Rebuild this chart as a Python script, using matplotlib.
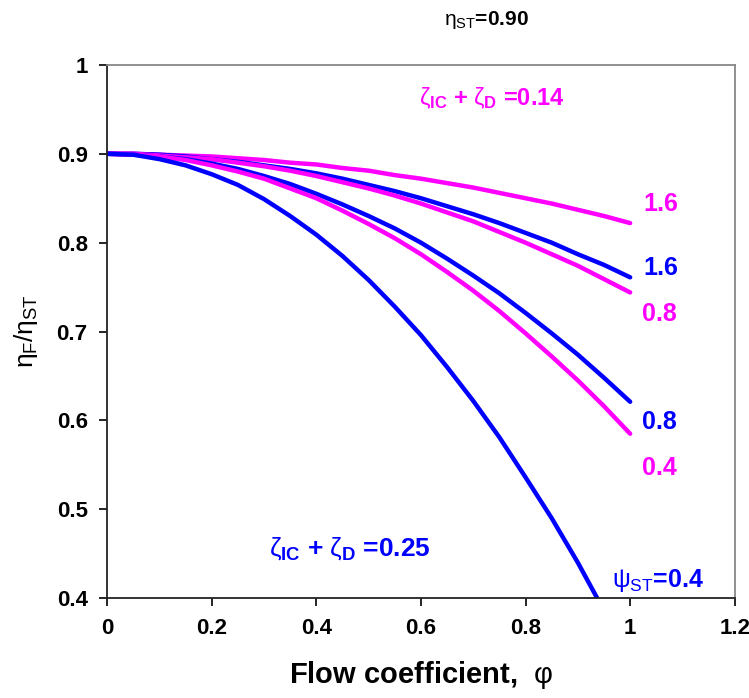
import matplotlib
matplotlib.use("Agg")
import matplotlib.pyplot as plt

plt.rcParams['font.family'] = ['Liberation Sans', 'DejaVu Sans']
plt.rcParams['mathtext.fontset'] = 'custom'
plt.rcParams['mathtext.rm'] = 'Liberation Sans'
plt.rcParams['mathtext.it'] = 'Liberation Sans'
plt.rcParams['mathtext.bf'] = 'Liberation Sans:bold'

# Flow coefficient grid
phi = [0.00, 0.05, 0.10, 0.15, 0.20, 0.25, 0.30, 0.35, 0.40, 0.45, 0.50,
       0.55, 0.60, 0.65, 0.70, 0.75, 0.80, 0.85, 0.90, 0.95, 1.00]
phi_low = [0.00, 0.05, 0.10, 0.15, 0.20, 0.25, 0.30, 0.35, 0.40, 0.45, 0.50,
           0.55, 0.60, 0.65, 0.70, 0.75, 0.80, 0.85, 0.90, 0.937]

# eta_F / eta_ST for zeta_IC + zeta_D = 0.14 (magenta)
m_psi16 = [0.900, 0.900, 0.899, 0.898, 0.897, 0.895, 0.893, 0.890, 0.888, 0.884, 0.881,
           0.876, 0.872, 0.867, 0.862, 0.856, 0.850, 0.844, 0.837, 0.830, 0.822]
m_psi08 = [0.900, 0.900, 0.898, 0.896, 0.894, 0.890, 0.886, 0.881, 0.875, 0.868, 0.861,
           0.853, 0.844, 0.834, 0.824, 0.812, 0.800, 0.787, 0.774, 0.759, 0.744]
m_psi04 = [0.900, 0.899, 0.897, 0.893, 0.887, 0.880, 0.872, 0.861, 0.850, 0.836, 0.821,
           0.805, 0.787, 0.767, 0.746, 0.723, 0.698, 0.672, 0.645, 0.616, 0.585]

# eta_F / eta_ST for zeta_IC + zeta_D = 0.25 (blue)
b_psi16 = [0.900, 0.900, 0.899, 0.897, 0.894, 0.891, 0.887, 0.883, 0.878, 0.872, 0.865,
           0.858, 0.850, 0.841, 0.832, 0.822, 0.811, 0.800, 0.787, 0.775, 0.761]
b_psi08 = [0.900, 0.899, 0.897, 0.894, 0.889, 0.883, 0.875, 0.866, 0.855, 0.843, 0.830,
           0.816, 0.800, 0.782, 0.763, 0.743, 0.721, 0.698, 0.674, 0.648, 0.621]
b_psi04 = [0.900, 0.899, 0.894, 0.887, 0.877, 0.865, 0.849, 0.830, 0.809, 0.785, 0.758,
           0.728, 0.696, 0.660, 0.622, 0.581, 0.536, 0.490, 0.440, 0.400]

x_ticks = [0, 0.2, 0.4, 0.6, 0.8, 1.0, 1.2]
x_tick_labels = ['0', '0.2', '0.4', '0.6', '0.8', '1', '1.2']
y_ticks = [0.4, 0.5, 0.6, 0.7, 0.8, 0.9, 1.0]
y_tick_labels = ['0.4', '0.5', '0.6', '0.7', '0.8', '0.9', '1']

MAG = '#FF00FF'
BLU = '#0000FF'

fig = plt.figure(figsize=(7.49, 6.98), dpi=100)
ax = fig.add_axes([0.143, 0.143, 0.838, 0.764])

lw = 3.2
ax.plot(phi, m_psi16, color=MAG, lw=lw, solid_capstyle='round', solid_joinstyle='round')
ax.plot(phi, b_psi16, color=BLU, lw=lw, solid_capstyle='round', solid_joinstyle='round')
ax.plot(phi, m_psi08, color=MAG, lw=lw, solid_capstyle='round', solid_joinstyle='round')
ax.plot(phi, b_psi08, color=BLU, lw=lw, solid_capstyle='round', solid_joinstyle='round')
ax.plot(phi, m_psi04, color=MAG, lw=lw, solid_capstyle='round', solid_joinstyle='round')
ax.plot(phi_low, b_psi04, color=BLU, lw=lw, solid_capstyle='round', solid_joinstyle='round')

ax.set_xlim(0, 1.2)
ax.set_ylim(0.4, 1.0)
ax.set_xticks(x_ticks)
ax.set_xticklabels(x_tick_labels)
ax.set_yticks(y_ticks)
ax.set_yticklabels(y_tick_labels)
ax.tick_params(direction='out', length=6, width=1.2, labelsize=16, pad=8)
for lab in ax.get_xticklabels() + ax.get_yticklabels():
    lab.set_fontweight('bold')

for s in ['left', 'bottom']:
    ax.spines[s].set_color('#222222')
    ax.spines[s].set_linewidth(1.3)
for s in ['top', 'right']:
    ax.spines[s].set_color('#888888')
    ax.spines[s].set_linewidth(1.3)

# curve labels at the right end
lab_kw = dict(fontsize=18, fontweight='bold', ha='left', va='center')
ax.text(1.025, 0.843, '1.6', color=MAG, **lab_kw)
ax.text(1.025, 0.771, '1.6', color=BLU, **lab_kw)
ax.text(1.022, 0.720, '0.8', color=MAG, **lab_kw)
ax.text(1.022, 0.598, '0.8', color=BLU, **lab_kw)
ax.text(1.022, 0.547, '0.4', color=MAG, **lab_kw)
ax.text(0.966, 0.420, r'$\psi_{\mathrm{ST}}$=0.4', color=BLU, **lab_kw)

ax.text(0.596, 0.963, r'$\zeta_{\mathbf{IC}}$ + $\zeta_{\mathbf{D}}$ =0.14', color=MAG,
        fontsize=17, fontweight='bold', ha='left', va='center')
ax.text(0.309, 0.456, r'$\zeta_{\mathbf{IC}}$ + $\zeta_{\mathbf{D}}$ =0.25', color=BLU,
        fontsize=19, fontweight='bold', ha='left', va='center')

fig.text(0.650, 0.972, r'$\eta_{\mathrm{ST}}$=0.90', color='black', fontsize=15,
         fontweight='bold', ha='center', va='center')

ax.set_xlabel(r'Flow coefficient,  $\varphi$', fontsize=21, fontweight='bold', labelpad=15)
ax.set_ylabel(r'$\eta_{\mathrm{F}}/\eta_{\mathrm{ST}}$', fontsize=19, labelpad=12)

fig.savefig('out.png', dpi=100, facecolor='white')
